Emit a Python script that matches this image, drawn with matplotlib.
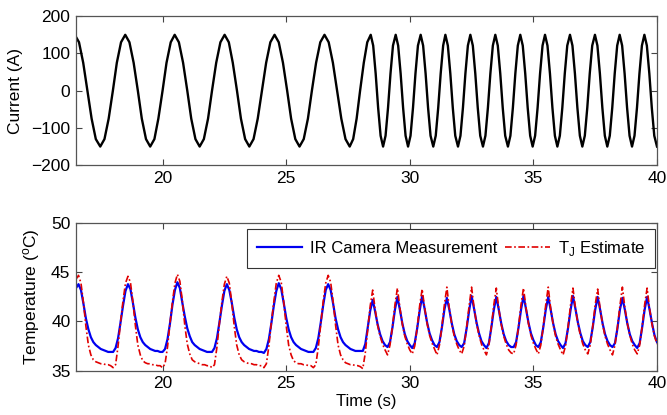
import matplotlib
matplotlib.use('Agg')
import matplotlib.pyplot as plt
import numpy as np

plt.rcParams['font.family'] = ['Liberation Sans', 'DejaVu Sans']
plt.rcParams['mathtext.fontset'] = 'custom'
plt.rcParams['mathtext.rm'] = 'Liberation Sans'

# current waveform, samples (s, A)
current_t = [
    16.45, 16.62, 16.79, 16.96, 17.13, 17.30, 17.48, 17.65, 17.82, 17.99, 18.15, 18.32,
    18.49, 18.66, 18.83, 19.00, 19.16, 19.33, 19.50, 19.67, 19.83, 20.00, 20.16, 20.33,
    20.49, 20.66, 20.83, 21.00, 21.16, 21.33, 21.50, 21.67, 21.84, 22.00, 22.17, 22.34,
    22.51, 22.68, 22.84, 23.01, 23.17, 23.34, 23.51, 23.68, 23.85, 24.02, 24.19, 24.36,
    24.53, 24.70, 24.87, 25.04, 25.20, 25.37, 25.54, 25.71, 25.88, 26.04, 26.21, 26.38,
    26.55, 26.72, 26.89, 27.06, 27.23, 27.40, 27.57, 27.71, 27.85, 27.99, 28.14, 28.28,
    28.42, 28.52, 28.62, 28.72, 28.82, 28.92, 29.02, 29.12, 29.22, 29.32,
    29.43, 29.53, 29.63, 29.73, 29.83, 29.93, 30.03, 30.13, 30.23, 30.33,
    30.44, 30.54, 30.64, 30.74, 30.84, 30.95, 31.05, 31.15, 31.25, 31.35,
    31.44, 31.54, 31.64, 31.74, 31.84, 31.95, 32.05, 32.15, 32.25, 32.35,
    32.45, 32.55, 32.65, 32.75, 32.85, 32.96, 33.06, 33.16, 33.26, 33.36,
    33.46, 33.56, 33.66, 33.76, 33.86, 33.97, 34.07, 34.17, 34.27, 34.37,
    34.47, 34.57, 34.67, 34.77, 34.87, 34.97, 35.07, 35.17, 35.27, 35.37,
    35.47, 35.57, 35.67, 35.77, 35.87, 35.97, 36.07, 36.17, 36.27, 36.37,
    36.48, 36.58, 36.68, 36.78, 36.88, 36.98, 37.08, 37.18, 37.28, 37.38,
    37.49, 37.59, 37.69, 37.79, 37.89, 37.99, 38.09, 38.19, 38.29, 38.39,
    38.49, 38.59, 38.69, 38.79, 38.89, 38.99, 39.09, 39.19, 39.29, 39.39,
    39.49, 39.59, 39.69, 39.79, 39.89, 40.00,
]
current_a = (
    [150, 130, 75, 0, -75, -130, -150, -130, -75, 0, 75, 130] * 6
    + [150, 121, 46, -46, -121, -150, -121, -46, 46, 121] * 11
    + [150, 121, 46, -46, -121, -150]
)

# temperature, sampled every 0.1 s from 16.5 to 40.0 s
temp_t = np.round(np.arange(165, 401) / 10, 1)

ir_camera = [
    43.4,
    43.8, 43.2, 41.8, 40.3, 39.2, 38.4, 37.9, 37.6, 37.4, 37.2, 37.1, 37.0, 36.9, 36.9, 36.9, 37.3, 38.3, 39.9, 41.6, 43.1,
    43.8, 43.3, 41.9, 40.4, 39.2, 38.4, 37.9, 37.6, 37.4, 37.2, 37.1, 37.0, 37.0, 36.9, 36.9, 37.2, 38.2, 39.8, 41.7, 43.2,
    44.0, 43.4, 41.9, 40.5, 39.3, 38.5, 37.9, 37.6, 37.4, 37.2, 37.1, 37.0, 36.9, 36.9, 36.9, 37.3, 38.3, 39.9, 41.6, 43.1,
    43.8, 43.2, 41.9, 40.4, 39.2, 38.4, 37.9, 37.6, 37.4, 37.2, 37.1, 37.0, 37.0, 36.9, 36.9, 36.8, 37.2, 38.2, 39.8, 41.6, 43.1,
    43.9, 43.3, 41.9, 40.4, 39.2, 38.4, 37.9, 37.6, 37.4, 37.2, 37.1, 37.0, 36.9, 36.9, 36.9, 37.3, 38.3, 39.9, 41.7, 43.2,
    43.8, 43.2, 41.8, 40.3, 39.2, 38.4, 37.9, 37.6, 37.4, 37.2, 37.1, 37.0, 37.0, 37.0, 37.0, 37.7, 39.4, 41.1,
    42.2, 41.0, 39.7, 38.7, 38.0, 37.6, 37.4, 37.9, 39.4, 41.2,
    42.5, 41.2, 39.8, 38.7, 38.0, 37.6, 37.3, 37.8, 39.3, 41.1,
    42.6, 41.3, 39.9, 38.8, 38.1, 37.6, 37.4, 37.9, 39.4, 41.2,
    42.4, 41.2, 39.8, 38.7, 38.0, 37.6, 37.4, 37.8, 39.3, 41.1,
    42.6, 41.3, 39.9, 38.8, 38.0, 37.6, 37.3, 37.8, 39.4, 41.2,
    42.5, 41.2, 39.8, 38.7, 38.0, 37.6, 37.4, 37.4, 37.9, 39.4, 41.2,
    42.6, 41.3, 39.9, 38.8, 38.1, 37.6, 37.4, 37.9, 39.4, 41.2,
    42.5, 41.2, 39.8, 38.7, 38.0, 37.6, 37.3, 37.8, 39.3, 41.1,
    42.6, 41.3, 39.9, 38.8, 38.0, 37.6, 37.4, 37.9, 39.4, 41.2,
    42.5, 41.2, 39.8, 38.7, 38.0, 37.6, 37.4, 37.8, 39.3, 41.2,
    42.4, 41.2, 39.8, 38.7, 38.0, 37.6, 37.3, 37.8, 39.4, 41.2,
    42.5, 41.2, 39.8, 38.6, 37.9,
]

tj_estimate = [
    44.3,
    44.7, 43.9, 41.9, 39.5, 37.6, 36.6, 36.1, 35.9, 35.8, 35.7, 35.7, 35.6, 35.6, 35.5, 35.3, 35.6, 37.5, 39.9, 42.1, 43.9,
    44.6, 44.0, 42.0, 39.6, 37.6, 36.6, 36.0, 35.8, 35.7, 35.7, 35.6, 35.6, 35.5, 35.5, 35.3, 35.7, 37.4, 39.8, 42.0, 43.9,
    44.8, 44.1, 42.1, 39.6, 37.7, 36.7, 36.1, 35.9, 35.8, 35.7, 35.6, 35.6, 35.5, 35.5, 35.3, 35.6, 37.4, 39.8, 42.0, 43.8,
    44.6, 43.9, 41.9, 39.5, 37.6, 36.6, 36.1, 35.9, 35.8, 35.7, 35.7, 35.6, 35.6, 35.5, 35.5, 35.3, 35.7, 37.5, 39.9, 42.0, 43.9,
    44.7, 44.0, 42.0, 39.6, 37.6, 36.6, 36.0, 35.8, 35.7, 35.7, 35.6, 35.6, 35.5, 35.5, 35.3, 35.6, 37.4, 39.8, 42.1, 43.9,
    44.7, 44.0, 42.0, 39.6, 37.6, 36.6, 36.1, 35.8, 35.7, 35.6, 35.6, 35.5, 35.5, 35.4, 35.2, 36.8, 39.2, 41.6,
    43.2, 41.2, 39.6, 38.5, 37.7, 37.1, 36.6, 37.6, 39.5, 41.7,
    43.4, 41.4, 39.7, 38.5, 37.7, 37.1, 36.7, 37.5, 39.4, 41.6,
    43.3, 41.4, 39.8, 38.6, 37.8, 37.2, 36.6, 37.6, 39.5, 41.7,
    43.5, 41.3, 39.7, 38.5, 37.7, 37.1, 36.7, 37.5, 39.4, 41.6,
    43.5, 41.4, 39.8, 38.6, 37.7, 37.1, 36.6, 37.6, 39.5, 41.7,
    43.4, 41.3, 39.7, 38.5, 37.7, 37.1, 36.8, 36.7, 37.6, 39.5, 41.7,
    43.4, 41.4, 39.8, 38.6, 37.8, 37.2, 36.7, 37.6, 39.5, 41.7,
    43.5, 41.3, 39.7, 38.5, 37.7, 37.1, 36.6, 37.5, 39.4, 41.6,
    43.4, 41.4, 39.8, 38.6, 37.7, 37.1, 36.7, 37.6, 39.5, 41.7,
    43.3, 41.3, 39.7, 38.5, 37.7, 37.1, 36.6, 37.6, 39.4, 41.6,
    43.5, 41.4, 39.8, 38.6, 37.7, 37.1, 36.7, 37.6, 39.5, 41.7,
    43.4, 41.3, 39.7, 38.5, 37.7,
]

fig = plt.figure(figsize=(6.67, 4.15), dpi=100)
ax1 = fig.add_axes([0.114, 0.602, 0.871, 0.359])
ax2 = fig.add_axes([0.114, 0.107, 0.871, 0.355])

ax1.plot(current_t, current_a, color='black', lw=1.7, solid_joinstyle='round')
ax1.set_xlim(16.5, 40)
ax1.set_ylim(-200, 200)
ax1.set_yticks([-200, -100, 0, 100, 200])
ax1.set_ylabel('Current (A)', fontsize=12.5)
ax1.yaxis.set_label_coords(-0.092, 0.5)

ax2.plot(temp_t, ir_camera, color='#0000f0', lw=1.6, label='IR Camera Measurement')
ax2.plot(temp_t, tj_estimate, color='#e00000', lw=1.2, dashes=(4, 1.5, 1, 1.5),
         label=r'T$_\mathregular{J}$ Estimate')
ax2.set_xlim(16.5, 40)
ax2.set_ylim(35, 50)
ax2.set_yticks([35, 40, 45, 50])
ax2.set_ylabel(r'Temperature ($\mathregular{^o}$C)', fontsize=12.5)
ax2.yaxis.set_label_coords(-0.058, 0.5)
ax2.set_xlabel('Time (s)', fontsize=12, labelpad=2)

leg = ax2.legend(loc='upper right', bbox_to_anchor=(0.997, 0.962), borderaxespad=0,
                 ncol=2, fontsize=12, frameon=True, fancybox=False,
                 handlelength=2.7, columnspacing=0.5, handletextpad=0.45,
                 borderpad=0.6)
leg.get_frame().set_edgecolor('#333333')
leg.get_frame().set_linewidth(0.8)
leg.get_frame().set_alpha(1)

for ax in (ax1, ax2):
    ax.set_xticks([20, 25, 30, 35, 40])
    ax.tick_params(direction='in', top=True, right=True, length=4, labelsize=12.5,
                   color='#444444', pad=4)
    for sp in ax.spines.values():
        sp.set_color('#555555')
        sp.set_linewidth(0.9)

fig.savefig('out.png', dpi=100)
